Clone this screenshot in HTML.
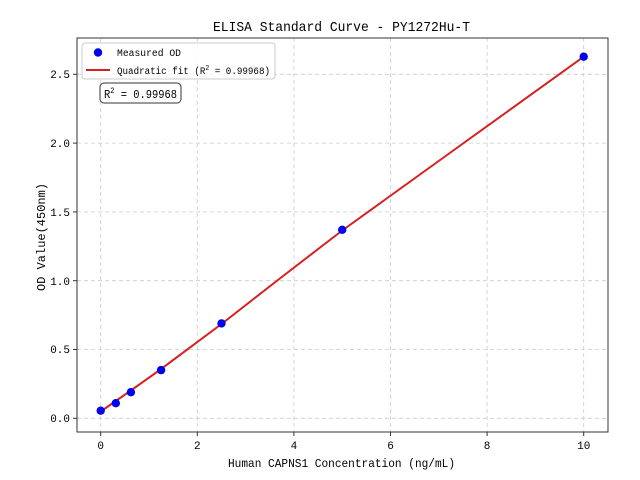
<!DOCTYPE html>
<html><head><style>body{margin:0;background:#fff}svg{display:block}text{font-family:"Liberation Mono",monospace;fill:#000}</style></head><body>
<svg width="640" height="480" viewBox="0 0 640 480">
<rect width="640" height="480" fill="#fff"/>
<g stroke="#ccc" stroke-dasharray="4,3" stroke-width="0.8">
<line x1="100.7" y1="38" x2="100.7" y2="432"/><line x1="197.3" y1="38" x2="197.3" y2="432"/><line x1="293.9" y1="38" x2="293.9" y2="432"/><line x1="390.5" y1="38" x2="390.5" y2="432"/><line x1="487.1" y1="38" x2="487.1" y2="432"/><line x1="583.7" y1="38" x2="583.7" y2="432"/>
<line x1="77" y1="418.3" x2="608" y2="418.3"/><line x1="77" y1="349.5" x2="608" y2="349.5"/><line x1="77" y1="280.7" x2="608" y2="280.7"/><line x1="77" y1="211.9" x2="608" y2="211.9"/><line x1="77" y1="143.1" x2="608" y2="143.1"/><line x1="77" y1="74.3" x2="608" y2="74.3"/>
</g>
<polyline fill="none" stroke="#d62020" stroke-width="2" points="100.7,411.5 130.9,390.5 161.1,369 221.5,324 281.8,277 342.2,230.5 463,143.5 583.7,56.7"/>
<g fill="#0000ee">
<circle cx="100.7" cy="410.7" r="4.2"/><circle cx="115.8" cy="403.2" r="4.2"/><circle cx="130.9" cy="392.2" r="4.2"/><circle cx="161.1" cy="370.1" r="4.2"/><circle cx="221.5" cy="323.4" r="4.2"/><circle cx="342.2" cy="229.8" r="4.2"/><circle cx="583.7" cy="56.7" r="4.2"/>
</g>
<rect x="77" y="38" width="531" height="394" fill="none" stroke="#333" stroke-width="1"/>
<g stroke="#333"><line x1="100.7" y1="432" x2="100.7" y2="436"/><line x1="197.3" y1="432" x2="197.3" y2="436"/><line x1="293.9" y1="432" x2="293.9" y2="436"/><line x1="390.5" y1="432" x2="390.5" y2="436"/><line x1="487.1" y1="432" x2="487.1" y2="436"/><line x1="583.7" y1="432" x2="583.7" y2="436"/>
<line x1="73" y1="418.3" x2="77" y2="418.3"/><line x1="73" y1="349.5" x2="77" y2="349.5"/><line x1="73" y1="280.7" x2="77" y2="280.7"/><line x1="73" y1="211.9" x2="77" y2="211.9"/><line x1="73" y1="143.1" x2="77" y2="143.1"/><line x1="73" y1="74.3" x2="77" y2="74.3"/></g>
<g font-size="11" text-anchor="middle"><text x="100.7" y="449">0</text><text x="197.3" y="449">2</text><text x="293.9" y="449">4</text><text x="390.5" y="449">6</text><text x="487.1" y="449">8</text><text x="583.7" y="449">10</text></g>
<g font-size="11" text-anchor="end"><text x="70" y="422">0.0</text><text x="70" y="353">0.5</text><text x="70" y="285">1.0</text><text x="70" y="216">1.5</text><text x="70" y="147">2.0</text><text x="70" y="78">2.5</text></g>
<text x="228" y="467" font-size="12" textLength="227" lengthAdjust="spacingAndGlyphs">Human CAPNS1 Concentration (ng/mL)</text>
<text transform="translate(45,237) rotate(-90)" font-size="12" text-anchor="middle">OD Value(450nm)</text>
<text x="213" y="31" font-size="14" textLength="257" lengthAdjust="spacingAndGlyphs">ELISA Standard Curve - PY1272Hu-T</text>
<rect x="82" y="43" width="193" height="36" rx="3" fill="#fff" fill-opacity="0.8" stroke="#ccc"/>
<circle cx="98" cy="52.5" r="4.2" fill="#0000ee"/>
<text x="117" y="56" font-size="10" textLength="64" lengthAdjust="spacingAndGlyphs">Measured OD</text>
<line x1="86" y1="70" x2="110" y2="70" stroke="#d62020" stroke-width="2"/>
<text x="117" y="74" font-size="10" textLength="153" lengthAdjust="spacingAndGlyphs">Quadratic fit (R<tspan font-size="7" dy="-4">2</tspan><tspan dy="4"> = 0.99968)</tspan></text>
<rect x="100" y="83" width="81" height="20" rx="4" fill="#fff" stroke="#333"/>
<text x="104" y="98" font-size="12" textLength="73" lengthAdjust="spacingAndGlyphs">R<tspan font-size="8" dy="-5">2</tspan><tspan dy="5"> = 0.99968</tspan></text>
</svg>
</body></html>
